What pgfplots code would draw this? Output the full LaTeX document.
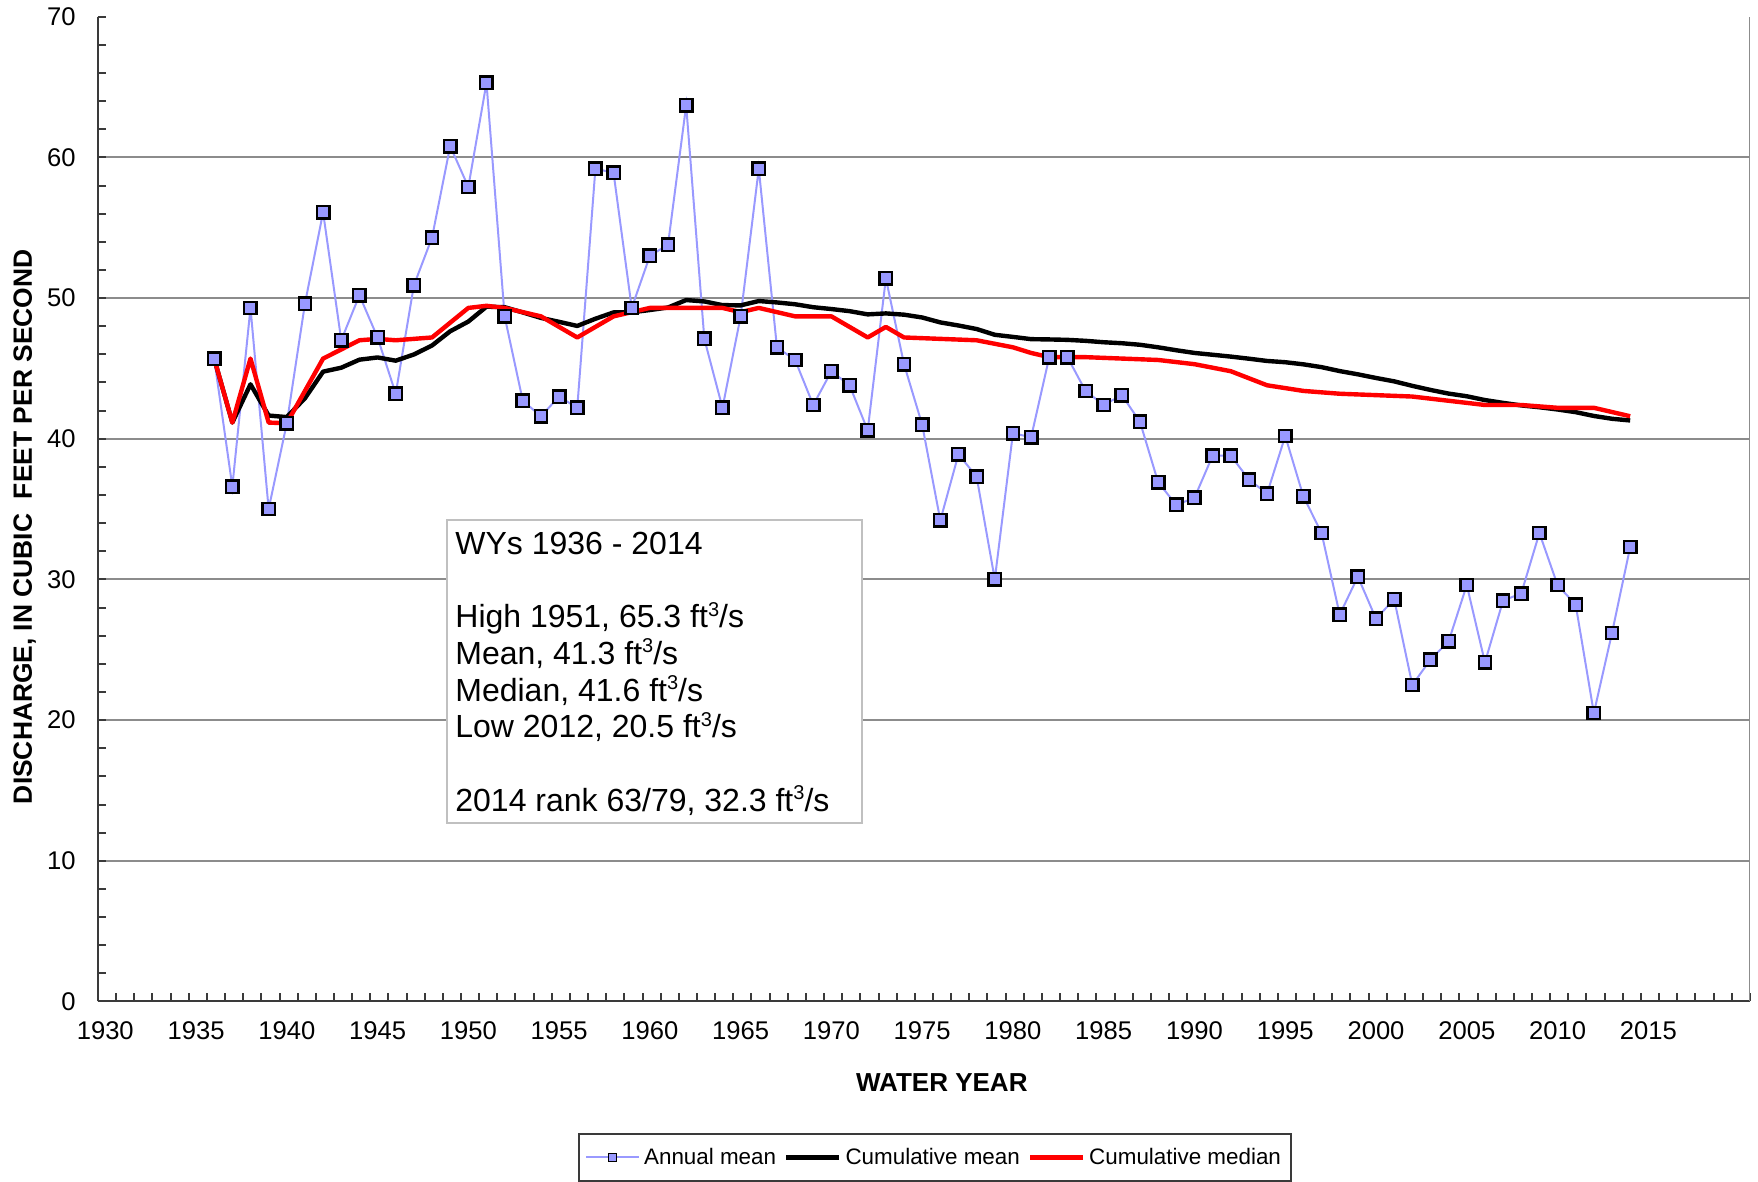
\documentclass[border=0pt]{standalone}
\usepackage{fontspec}
\setmainfont{Liberation Sans}
\usepackage{pgfplots}
\usepackage{pgfplotstable}
\pgfplotsset{compat=1.18}
\definecolor{amblue}{HTML}{9999FF}
\definecolor{gridgray}{HTML}{8C8C8C}
\definecolor{axisgray}{HTML}{3A3A3A}
\definecolor{boxgray}{HTML}{C0C0C0}
\newcommand{\cube}{\raisebox{0.36em}{\fontsize{10}{10}\selectfont 3}}

\pgfplotstableread{
year annual cmean cmedian
1936 45.7 45.70 45.70
1937 36.6 41.15 41.15
1938 49.3 43.87 45.70
1939 35.0 41.65 41.15
1940 41.1 41.54 41.10
1941 49.6 42.88 43.40
1942 56.1 44.77 45.70
1943 47.0 45.05 46.35
1944 50.2 45.62 47.00
1945 47.2 45.78 47.10
1946 43.2 45.55 47.00
1947 50.9 45.99 47.10
1948 54.3 46.63 47.20
1949 60.8 47.64 48.25
1950 57.9 48.33 49.30
1951 65.3 49.39 49.45
1952 48.7 49.35 49.30
1953 42.7 48.98 49.00
1954 41.6 48.59 48.70
1955 43.0 48.31 47.95
1956 42.2 48.02 47.20
1957 59.2 48.53 47.95
1958 58.9 48.98 48.70
1959 49.3 48.99 49.00
1960 53.0 49.15 49.30
1961 53.8 49.33 49.30
1962 63.7 49.86 49.30
1963 47.1 49.76 49.30
1964 42.2 49.50 49.30
1965 48.7 49.48 49.00
1966 59.2 49.79 49.30
1967 46.5 49.69 49.00
1968 45.6 49.56 48.70
1969 42.4 49.35 48.70
1970 44.8 49.22 48.70
1971 43.8 49.07 47.95
1972 40.6 48.84 47.20
1973 51.4 48.91 47.95
1974 45.3 48.82 47.20
1975 41.0 48.62 47.15
1976 34.2 48.27 47.10
1977 38.9 48.05 47.05
1978 37.3 47.80 47.00
1979 30.0 47.39 46.75
1980 40.4 47.24 46.50
1981 40.1 47.08 46.10
1982 45.8 47.06 45.80
1983 45.8 47.03 45.80
1984 43.4 46.96 45.80
1985 42.4 46.86 45.75
1986 43.1 46.79 45.70
1987 41.2 46.68 45.65
1988 36.9 46.50 45.60
1989 35.3 46.29 45.45
1990 35.8 46.10 45.30
1991 38.8 45.97 45.05
1992 38.8 45.84 44.80
1993 37.1 45.69 44.30
1994 36.1 45.53 43.80
1995 40.2 45.44 43.60
1996 35.9 45.29 43.40
1997 33.3 45.09 43.30
1998 27.5 44.81 43.20
1999 30.2 44.58 43.15
2000 27.2 44.32 43.10
2001 28.6 44.08 43.05
2002 22.5 43.76 43.00
2003 24.3 43.47 42.85
2004 25.6 43.21 42.70
2005 29.6 43.02 42.55
2006 24.1 42.75 42.40
2007 28.5 42.55 42.40
2008 29.0 42.37 42.40
2009 33.3 42.24 42.30
2010 29.6 42.08 42.20
2011 28.2 41.89 42.20
2012 20.5 41.62 42.20
2013 26.2 41.42 41.90
2014 32.3 41.30 41.60
}\flowdata

\begin{document}
\begin{tikzpicture}
\begin{axis}[
  at={(0pt,0pt)}, anchor=south west,
  scale only axis, width=826pt, height=492.4pt,
  xmin=1929.6, xmax=2020.6, ymin=0, ymax=70,
  axis lines=left, axis line style={-, draw=axisgray, line width=1pt},
  tick align=inside,
  xtick={1930,1935,...,2015},
  major x tick style={draw=none},
  minor xtick={1929.6,1930.6,...,2020.6},
  ytick={0,10,...,60},
  extra y ticks={70},
  extra y tick style={grid=none},
  minor ytick={0,2,...,70},
  ymajorgrids,
  grid style={draw=gridgray, line width=1pt},
  tick style={draw=axisgray, line width=1pt},
  major tick length=4pt, minor tick length=4pt,
  /pgf/number format/assume math mode=true,
  /pgf/number format/1000 sep={},
  tick label style={font=\fontsize{12.8}{15}\selectfont, text=black},
  xticklabel style={yshift=-6.5pt},
  yticklabel style={xshift=-7.7pt},
  xlabel={WATER YEAR},
  ylabel={DISCHARGE, IN CUBIC\ \ FEET PER SECOND},
  every axis x label/.style={at={(axis description cs:0.5108,0)}, yshift=-40.75pt, anchor=center, font=\bfseries\fontsize{13}{15}\selectfont},
  every axis y label/.style={at={(axis description cs:0,0.482)}, xshift=-36.65pt, rotate=90, anchor=center, font=\bfseries\fontsize{13.2}{15}\selectfont},
  legend columns=3,
  legend style={at={(axis description cs:0.5067,0)}, yshift=-78pt, anchor=center,
    draw=axisgray, line width=0.8pt, inner xsep=3pt, inner ysep=5pt,
    font=\fontsize{11.2}{13}\selectfont,
    nodes={inner xsep=2pt, inner ysep=2pt},
    /tikz/every even column/.append style={column sep=2pt}},
  legend image code/.code={\draw[#1] (0pt,0pt) -- (26.5pt,0pt);},
]
\addplot[color=amblue, line width=1pt, mark=square*, mark size=3.1pt,
  mark options={fill=amblue, draw=black, line width=1.2pt, solid},
  legend image code/.code={
    \draw[amblue, line width=1pt] (0pt,0pt) -- (26.5pt,0pt);
    \draw[fill=amblue, draw=black, line width=0.7pt] (11.3pt,-2pt) rectangle (15.3pt,2pt);}
  ] table[x=year, y=annual] {\flowdata};
\addlegendentry{Annual mean}
\addplot[black, line width=2.2pt, line join=round] table[x=year, y=cmean] {\flowdata};
\addlegendentry{Cumulative mean}
\addplot[red, line width=2.2pt, line join=round] table[x=year, y=cmedian] {\flowdata};
\addlegendentry{Cumulative median}
\draw[gridgray, line width=1pt] (rel axis cs:1,0) -- (rel axis cs:1,1);
\draw[draw=boxgray, line width=1pt, fill=white] (rel axis cs:0.21144,0.18095) rectangle (rel axis cs:0.46228,0.48893);
\node[anchor=north west, inner sep=0pt, align=left, xshift=3.85pt, yshift=-5.8pt,
  font=\fontsize{16}{18.35}\selectfont] at (rel axis cs:0.21144,0.48893)
  {WYs 1936 - 2014\\[18.35pt]
   High 1951, 65.3 ft\cube/s\\
   Mean, 41.3 ft\cube/s\\
   Median, 41.6 ft\cube/s\\
   Low 2012, 20.5 ft\cube/s\\[18.35pt]
   2014 rank 63/79, 32.3 ft\cube/s};
\end{axis}
\pgfresetboundingbox
\useasboundingbox (-49pt,-90.25pt) rectangle (830pt,500.75pt);
\end{tikzpicture}
\end{document}
